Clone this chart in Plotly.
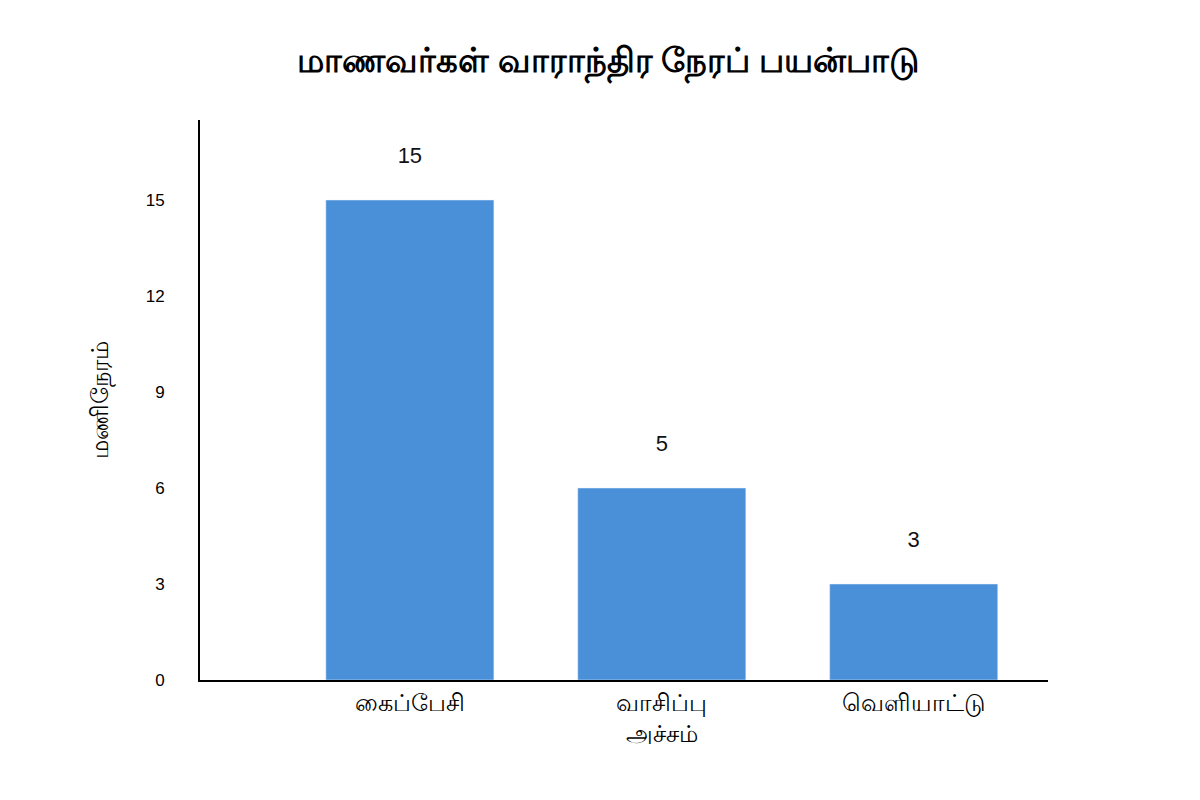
import plotly.graph_objects as go

categories = ["கைப்பேசி", "வாசிப்பு<br>அச்சம்", "வெளியாட்டு"]
values = [15, 6, 3]
labels = ["15", "5", "3"]
positions = [0, 1, 2]
yticks = [0, 3, 6, 9, 12, 15]

fig = go.Figure(go.Bar(
    x=positions, y=values, width=0.667, marker_color="#4a90d9",
    text=[l + "<br> " for l in labels], textposition="outside", cliponaxis=False,
    textfont=dict(size=22, color="#111", family="Liberation Sans"),
))
fig.update_layout(
    width=1200, height=800, plot_bgcolor="white", paper_bgcolor="white",
    margin=dict(l=192, r=160, t=112, b=128),
    title=dict(text="<b>மாணவர்கள் வாராந்திர நேரப் பயன்பாடு</b>", x=0.5, y=0.95,
               xanchor="center", font=dict(size=34, color="black", family="Noto Sans, Liberation Sans")),
    showlegend=False, font=dict(family="Liberation Sans", color="black"),
)
fig.update_xaxes(range=[-0.833, 2.533], tickvals=positions, ticktext=categories,
                 showline=True, linecolor="black", linewidth=2, showgrid=False,
                 ticks="", tickfont=dict(size=24, family="Noto Sans, Liberation Sans"))
fig.update_yaxes(range=[0, 17.5], tickvals=yticks, showline=True, linecolor="black",
                 linewidth=2, showgrid=False, zeroline=False, ticks="", ticklabelstandoff=30,
                 tickfont=dict(size=17),
                 title=dict(text="மணிநேரம்", font=dict(size=24, family="Noto Sans, Liberation Sans"), standoff=30))
fig.write_html("out.html")
